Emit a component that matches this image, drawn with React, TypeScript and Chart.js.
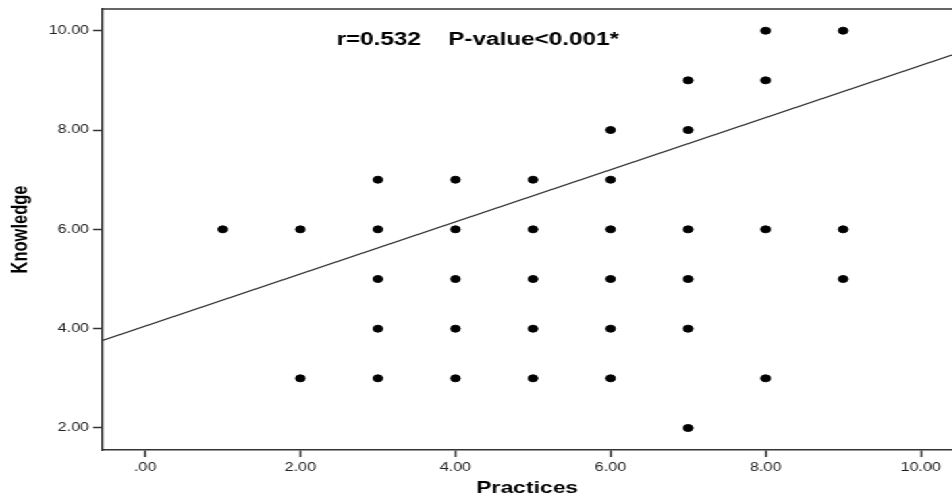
import React, { useEffect, useRef } from 'react';
import { Chart, registerables } from 'chart.js';

Chart.register(...registerables);

// Scatter data: Practices (x) vs Knowledge (y)
const practices = [1, 2, 2, 3, 3, 3, 3, 3, 4, 4, 4, 4, 4, 5, 5, 5, 5, 5, 6, 6, 6, 6, 6, 6, 7, 7, 7, 7, 7, 7, 8, 8, 8, 8, 9, 9, 9];
const knowledge = [6, 6, 3, 7, 6, 5, 4, 3, 7, 6, 5, 4, 3, 7, 6, 5, 4, 3, 8, 7, 6, 5, 4, 3, 9, 8, 6, 5, 4, 2, 10, 9, 6, 3, 10, 6, 5];

const xTicks = [0, 2, 4, 6, 8, 10];
const yTicks = [2, 4, 6, 8, 10];
const xRange = [-0.55, 10.4];
const yRange = [1.557, 10.437];

// Fit line y = a + b x
const fitIntercept = 4.05;
const fitSlope = 0.525;

const xTitle = 'Practices';
const yTitle = 'Knowledge';
const statR = 'r=0.532';
const statP = 'P-value<0.001*';
const statRX = 2.465;
const statPX = 3.906;
const statY = 9.704;

const fmt = (v: number) => (v === 0 ? '.00' : v.toFixed(2));

const STRETCH = 1.35;
const W = 705;
const H = 499;

export default function App() {
  const ref = useRef<HTMLCanvasElement | null>(null);

  useEffect(() => {
    document.body.style.margin = '0';
    document.body.style.overflow = 'hidden';
    const canvas = ref.current;
    if (!canvas) return;

    const overlay = {
      id: 'overlay',
      afterDraw(chart: any) {
        const { ctx, chartArea, scales } = chart;
        ctx.save();
        ctx.strokeStyle = '#333';
        ctx.lineWidth = 1.5;
        ctx.beginPath();
        ctx.moveTo(chartArea.left, chartArea.top);
        ctx.lineTo(chartArea.right, chartArea.top);
        ctx.stroke();
        ctx.font = 'bold 18px "Liberation Sans", Arial, sans-serif';
        ctx.fillStyle = '#000';
        ctx.textBaseline = 'alphabetic';
        ctx.textAlign = 'left';
        const y = scales.y.getPixelForValue(statY);
        ctx.fillText(statR, scales.x.getPixelForValue(statRX), y);
        ctx.fillText(statP, scales.x.getPixelForValue(statPX), y);
        ctx.restore();
      },
    };

    const points = practices.map((x, i) => ({ x, y: knowledge[i] }));
    const fitLine = xRange.map((x) => ({ x, y: fitIntercept + fitSlope * x }));

    const tickFont = { family: '"Liberation Sans", Arial, sans-serif', size: 12 };

    const chart = new Chart(canvas, {
      type: 'scatter',
      data: {
        datasets: [
          {
            type: 'line',
            data: fitLine,
            borderColor: '#333',
            borderWidth: 1.3,
            pointRadius: 0,
            fill: false,
          } as any,
          {
            data: points,
            backgroundColor: '#000',
            borderColor: '#000',
            borderWidth: 1,
            pointRadius: 3.5,
          },
        ],
      },
      options: {
        animation: false,
        responsive: false,
        devicePixelRatio: 1,
        layout: { autoPadding: false, padding: { top: 9, left: 0, right: 0, bottom: 0 } },
        plugins: { legend: { display: false }, tooltip: { enabled: false } },
        scales: {
          x: {
            type: 'linear',
            min: xRange[0],
            max: xRange[1],
            afterBuildTicks: (s: any) => {
              s.ticks = xTicks.map((v) => ({ value: v }));
            },
            afterFit: (s: any) => {
              s.height = 49;
              s.paddingLeft = 0;
              s.paddingRight = 0;
            },
            ticks: {
              callback: (v: any) => fmt(Number(v)),
              color: '#222',
              font: tickFont,
              padding: 3,
              maxRotation: 0,
              autoSkip: false,
            },
            grid: {
              display: true,
              drawOnChartArea: false,
              drawTicks: true,
              tickLength: 7,
              tickColor: '#333',
              tickWidth: 1.5,
            },
            border: { display: true, color: '#333', width: 1.5 },
            title: {
              display: true,
              text: xTitle,
              color: '#000',
              font: { family: '"Liberation Sans", Arial, sans-serif', size: 17, weight: 'bold' },
              padding: { top: 0, bottom: 0 },
            },
          },
          y: {
            type: 'linear',
            min: yRange[0],
            max: yRange[1],
            afterBuildTicks: (s: any) => {
              s.ticks = yTicks.map((v) => ({ value: v }));
            },
            afterFit: (s: any) => {
              s.width = 76;
              s.paddingTop = 0;
              s.paddingBottom = 0;
            },
            ticks: {
              callback: (v: any) => fmt(Number(v)),
              color: '#222',
              font: tickFont,
              padding: 3,
              autoSkip: false,
            },
            grid: {
              display: true,
              drawOnChartArea: false,
              drawTicks: true,
              tickLength: 7,
              tickColor: '#333',
              tickWidth: 1.5,
            },
            border: { display: true, color: '#333', width: 1.5 },
            title: {
              display: true,
              text: yTitle,
              color: '#000',
              font: { family: '"Liberation Sans", Arial, sans-serif', size: 16.5, weight: 'bold' },
              padding: { top: 6, bottom: 0 },
            },
          },
        },
      },
      plugins: [overlay],
    });

    return () => chart.destroy();
  }, []);

  return (
    <div
      style={{
        width: W,
        height: H,
        transform: `scaleX(${STRETCH})`,
        transformOrigin: '0 0',
        background: '#fff',
      }}
    >
      <canvas ref={ref} width={W} height={H} />
    </div>
  );
}
